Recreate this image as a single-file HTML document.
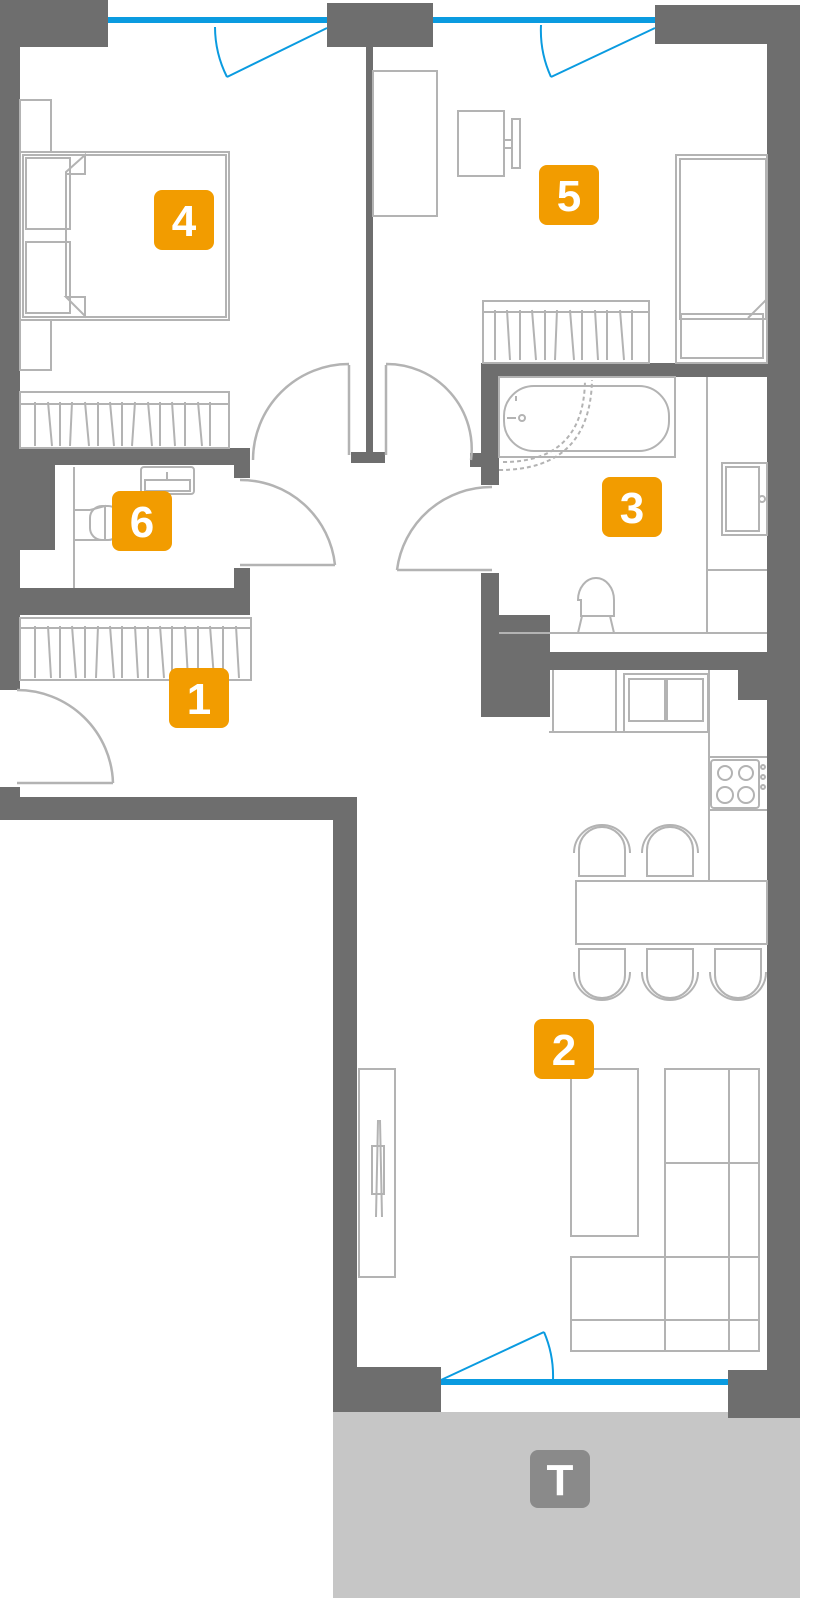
<!DOCTYPE html>
<html><head><meta charset="utf-8"><style>
html,body{margin:0;padding:0;background:#fff}
svg{display:block}
.w{fill:#6e6e6e}
.f{fill:none;stroke:#b3b3b3;stroke-width:2}
.d{fill:none;stroke:#b3b3b3;stroke-width:2.5}
.b{fill:none;stroke:#0a9be0;stroke-width:2}
.lab{font-family:"Liberation Sans",sans-serif;font-weight:bold;font-size:44px;fill:#fff;text-anchor:middle}
</style></head><body>
<svg width="815" height="1598" viewBox="0 0 815 1598" xmlns="http://www.w3.org/2000/svg">
<!-- terrace -->
<rect x="333" y="1412" width="467" height="186" fill="#c6c6c6"/>
<!-- windows -->
<rect x="108" y="17" width="220" height="6" fill="#0a9be0"/>
<rect x="433" y="17" width="222" height="6" fill="#0a9be0"/>
<rect x="441" y="1379" width="288" height="6" fill="#0a9be0"/>
<!-- walls -->
<rect class="w" x="0" y="0" width="108" height="47"/>
<rect class="w" x="0" y="0" width="20" height="690"/>
<rect class="w" x="327" y="3" width="106" height="44"/>
<rect class="w" x="655" y="5" width="145" height="39"/>
<rect class="w" x="767" y="5" width="33" height="1413"/>
<rect class="w" x="366" y="47" width="7" height="410"/>
<rect class="w" x="351" y="452" width="34" height="11"/>
<rect class="w" x="20" y="448" width="230" height="17"/>
<rect class="w" x="20" y="448" width="35" height="102"/>
<rect class="w" x="234" y="448" width="16" height="30"/>
<rect class="w" x="20" y="588" width="230" height="27"/>
<rect class="w" x="234" y="568" width="16" height="47"/>
<rect class="w" x="0" y="787" width="20" height="33"/>
<rect class="w" x="0" y="797" width="357" height="23"/>
<rect class="w" x="333" y="797" width="24" height="615"/>
<rect class="w" x="333" y="1367" width="108" height="45"/>
<rect class="w" x="728" y="1370" width="72" height="48"/>
<rect class="w" x="481" y="363" width="286" height="14"/>
<rect class="w" x="481" y="363" width="18" height="122"/>
<rect class="w" x="470" y="453" width="14" height="14"/>
<rect class="w" x="481" y="573" width="18" height="144"/>
<rect class="w" x="481" y="615" width="69" height="102"/>
<rect class="w" x="499" y="652" width="268" height="18"/>
<rect class="w" x="738" y="652" width="29" height="48"/>
<!-- doors -->
<path class="d" d="M349 455 V365 M253 460 A96 96 0 0 1 349 364"/>
<path class="d" d="M386 455 V365 M386 364 A85 85 0 0 1 471 460"/>
<path class="d" d="M240 565 H335 M240 480 A95 95 0 0 1 335 565"/>
<path class="d" d="M397 570 H492 M397 570 A95 95 0 0 1 492 487"/>
<path class="d" d="M17 783 H113 M17 690 A96 96 0 0 1 113 783"/>
<path class="b" d="M327 28 L227 77 M215 27 A112 112 0 0 0 227 77"/>
<path class="b" d="M655 28 L551 77 M541 25 A112 112 0 0 0 551 77"/>
<path class="b" d="M441 1380 L544 1332 M544 1332 A112 112 0 0 1 553 1380"/>
<!-- room 4 furniture -->
<rect class="f" x="20" y="100" width="31" height="52"/>
<rect class="f" x="20" y="320" width="31" height="50"/>
<rect class="f" x="20" y="152" width="209" height="168"/>
<rect class="f" x="23" y="155" width="203" height="162"/>
<rect class="f" x="26" y="158" width="44" height="71"/>
<rect class="f" x="26" y="242" width="44" height="71"/>
<path class="f" d="M66 172 L85 155 V174 H66 Z M66 297 L85 316 V297 Z M66 172 V297"/>
<rect class="f" x="20" y="392" width="209" height="56"/>
<path class="f" d="M20 404 H229 M35 402 v44 M48 402 l4 44 M60 402 v44 M72 402 l-2 44 M85 402 l4 44 M98 402 v44 M110 402 l4 44 M122 402 v44 M135 402 l-3 44 M148 402 l4 44 M160 402 v44 M172 402 l3 44 M185 402 v44 M198 402 l4 44 M210 402 v44"/>
<!-- room 5 furniture -->
<rect class="f" x="373" y="71" width="64" height="145"/>
<rect class="f" x="458" y="111" width="46" height="65"/>
<rect class="f" x="512" y="119" width="8" height="49"/>
<path class="f" d="M504 140 H512 M504 148 H512"/>
<rect class="f" x="676" y="155" width="91" height="208"/>
<rect class="f" x="680" y="159" width="86" height="160"/>
<rect class="f" x="681" y="314" width="82" height="44"/>
<path class="f" d="M748 318 L766 300"/>
<rect class="f" x="483" y="301" width="166" height="62"/>
<path class="f" d="M483 312 H649 M495 310 v50 M507 310 l3 50 M520 310 v50 M532 310 l4 50 M545 310 v50 M557 310 l-2 50 M570 310 l4 50 M582 310 v50 M595 310 l3 50 M607 310 v50 M620 310 l4 50 M632 310 v50"/>
<!-- bathroom 3 -->
<rect class="f" x="499" y="377" width="176" height="80"/>
<rect class="f" x="504" y="386" width="165" height="65" rx="30"/>
<path d="M499 470 Q590 470 592 380" fill="none" stroke="#b3b3b3" stroke-width="2" stroke-dasharray="4 3"/>
<path d="M503 462 Q584 462 585 380" fill="none" stroke="#b3b3b3" stroke-width="2" stroke-dasharray="4 3"/>
<circle class="f" cx="522" cy="418" r="3"/>
<path class="f" d="M507 418 H516 M516 396 v5"/>
<path class="f" d="M707 377 V633 M707 570 H767 M499 633 H767"/>
<rect class="f" x="722" y="463" width="45" height="72"/>
<rect class="f" x="726" y="467" width="33" height="64"/>
<circle class="f" cx="762" cy="499" r="3"/>
<path class="f" d="M578 600 A18 22 0 0 1 614 600 V616 H581 V600 Z M582 616 L578 633 M610 616 L614 633"/>
<!-- bathroom 6 -->
<rect class="f" x="141" y="467" width="53" height="27" rx="3"/>
<rect class="f" x="145" y="480" width="45" height="11"/>
<path class="f" d="M167 472 v8"/>
<path class="f" d="M74 467 V588 M74 510 H90 M74 540 H90 M90 510 L105 506 V540 L90 540"/>
<rect class="f" x="90" y="506" width="30" height="34" rx="12"/>
<!-- hall wardrobe -->
<rect class="f" x="20" y="618" width="231" height="62"/>
<path class="f" d="M20 628 H251 M35 626 v52 M48 626 l3 52 M60 626 v52 M72 626 l4 52 M85 626 v52 M98 626 l-2 52 M110 626 l4 52 M122 626 v52 M135 626 l3 52 M148 626 v52 M160 626 l4 52 M172 626 v52 M185 626 l3 52 M198 626 v52 M210 626 l4 52 M223 626 v52 M236 626 l3 52"/>
<!-- kitchen -->
<path class="f" d="M549 732 H709 M553 670 V732 M616 670 V732 M709 670 V880 M709 757 H767 M709 810 H767"/>
<rect class="f" x="624" y="674" width="84" height="58"/>
<rect class="f" x="629" y="679" width="36" height="42"/>
<rect class="f" x="667" y="679" width="36" height="42"/>
<rect class="f" x="711" y="760" width="48" height="48" rx="3"/>
<circle class="f" cx="725" cy="773" r="7"/><circle class="f" cx="746" cy="773" r="7"/>
<circle class="f" cx="725" cy="795" r="8"/><circle class="f" cx="746" cy="795" r="8"/>
<circle class="f" cx="763" cy="767" r="2"/><circle class="f" cx="763" cy="777" r="2"/><circle class="f" cx="763" cy="787" r="2"/>
<rect class="f" x="576" y="881" width="191" height="63"/>
<path class="f" d="M574 853 A28 28 0 0 1 630 853 M579 876 V850 A23 23 0 0 1 625 850 V876 Z"/>
<path class="f" d="M642 853 A28 28 0 0 1 698 853 M647 876 V850 A23 23 0 0 1 693 850 V876 Z"/>
<path class="f" d="M574 972 A28 28 0 0 0 630 972 M579 949 V975 A23 23 0 0 0 625 975 V949 Z"/>
<path class="f" d="M642 972 A28 28 0 0 0 698 972 M647 949 V975 A23 23 0 0 0 693 975 V949 Z"/>
<path class="f" d="M710 972 A28 28 0 0 0 766 972 M715 949 V975 A23 23 0 0 0 761 975 V949 Z"/>
<!-- living -->
<rect class="f" x="359" y="1069" width="36" height="208"/>
<rect class="f" x="372" y="1146" width="12" height="48"/>
<path class="f" d="M378 1120 L376 1217 M380 1120 L382 1217"/>
<rect class="f" x="571" y="1069" width="67" height="167"/>
<rect class="f" x="665" y="1069" width="94" height="282"/>
<path class="f" d="M729 1069 V1351 M665 1163 H759 M665 1257 H759 M665 1320 H759"/>
<rect class="f" x="571" y="1257" width="94" height="94"/>
<path class="f" d="M571 1320 H665"/>
<!-- labels -->
<rect x="154" y="190" width="60" height="60" rx="8" fill="#f29c00"/><text class="lab" x="184" y="236">4</text>
<rect x="539" y="165" width="60" height="60" rx="8" fill="#f29c00"/><text class="lab" x="569" y="211">5</text>
<rect x="602" y="477" width="60" height="60" rx="8" fill="#f29c00"/><text class="lab" x="632" y="523">3</text>
<rect x="112" y="491" width="60" height="60" rx="8" fill="#f29c00"/><text class="lab" x="142" y="537">6</text>
<rect x="169" y="668" width="60" height="60" rx="8" fill="#f29c00"/><text class="lab" x="199" y="714">1</text>
<rect x="534" y="1019" width="60" height="60" rx="8" fill="#f29c00"/><text class="lab" x="564" y="1065">2</text>
<rect x="530" y="1450" width="60" height="58" rx="8" fill="#8a8a8a"/><text class="lab" x="560" y="1495">T</text>
</svg>
</body></html>
